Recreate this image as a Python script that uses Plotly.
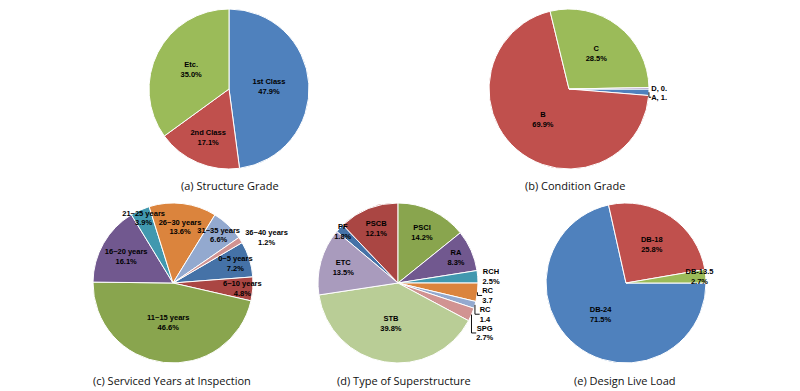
import plotly.graph_objects as go

W, H = 800, 391

# ---- data ----
a_labels = ["1st Class", "2nd Class", "Etc."]
a_values = [47.9, 17.1, 35.0]

b_labels = ["A", "B", "C", "D"]
b_values = [1.3, 69.9, 28.5, 0.3]
b_text = ["A, 1.", "B<br>69.9%", "C<br>28.5%", "D, 0."]

c_labels = ["0~5 years", "6~10 years", "11~15 years", "16~20 years",
            "21~25 years", "26~30 years", "31~35 years", "36~40 years"]
c_values = [7.2, 4.8, 46.6, 16.1, 3.9, 13.6, 6.6, 1.2]

d_labels = ["PF", "PSCB", "PSCI", "RA", "RCH", "RC (a)", "RC (b)", "SPG", "STB", "ETC"]
d_values = [1.8, 12.1, 14.2, 8.3, 2.5, 3.7, 1.4, 2.7, 39.8, 13.5]
d_text = ["PF<br>1.8%", "PSCB<br>12.1%", "PSCI<br>14.2%", "RA<br>8.3%", "RCH<br>2.5%",
          "RC<br>3.7", "RC<br>1.4", "SPG<br>2.7%", "STB<br>39.8%", "ETC<br>13.5%"]

e_labels = ["DB-24", "DB-18", "DB-13.5"]
e_values = [71.5, 25.8, 2.7]

captions = ["(a) Structure Grade", "(b) Condition Grade", "(c) Serviced Years at Inspection",
            "(d) Type of Superstructure", "(e) Design Live Load"]

# ---- styling ----
col3 = ["#4F81BD", "#C0504D", "#9BBB59", "#8064A2"]
col10 = ["#4572A7", "#AA4643", "#89A54E", "#71588F", "#4198AF",
         "#DB843D", "#93A9CF", "#D19392", "#B9CD96", "#A99BBD"]
lab_font = dict(family="Liberation Sans, Arial, sans-serif", size=7.5, color="black", weight="bold")


def dom(cx, cy, r):
    return dict(x=[(cx - r) / W, (cx + r) / W], y=[1 - (cy + r) / H, 1 - (cy - r) / H])


def fmt(labels, values):
    return [f"{l}<br>{v:.1f}%" for l, v in zip(labels, values)]


fig = go.Figure()


def add_pie(labels, values, text, colors, rotation, domain, textpos):
    # coloured slices
    fig.add_trace(go.Pie(labels=labels, values=values, sort=False, direction="clockwise",
                         rotation=rotation, domain=domain, textinfo="none",
                         marker=dict(colors=colors, line=dict(color="white", width=1)),
                         showlegend=False, hoverinfo="label+percent"))
    # same slices, transparent, carrying the labels on top
    fig.add_trace(go.Pie(labels=labels, values=values, sort=False, direction="clockwise",
                         rotation=rotation, domain=domain, text=text, textinfo="text",
                         textposition=textpos, insidetextorientation="horizontal",
                         marker=dict(colors=["rgba(0,0,0,0)"] * len(values),
                                     line=dict(color="rgba(0,0,0,0)", width=0)),
                         textfont=lab_font, showlegend=False, hoverinfo="skip"))


add_pie(a_labels, a_values, fmt(a_labels, a_values), col3[:3], 0, dom(229, 89, 80), "inside")
add_pie(b_labels, b_values, b_text, col3, 90, dom(569, 89, 80),
        ["outside", "inside", "inside", "outside"])
add_pie(c_labels, c_values, fmt(c_labels, c_values), col10[:8], 59.7, dom(173, 283, 80),
        ["inside"] * 7 + ["outside"])
add_pie(d_labels, d_values, d_text, col10, 310, dom(398, 283, 80),
        ["inside", "inside", "inside", "inside", "outside", "outside", "outside", "outside",
         "inside", "inside"])
add_pie(e_labels, e_values, fmt(e_labels, e_values), col3[:3], 90, dom(626, 283, 80), "inside")

cap_pos = [(230, 185), (575, 185), (172, 380), (404, 380), (625, 380)]
for txt, (x, y) in zip(captions, cap_pos):
    fig.add_annotation(text=txt, x=x / W, y=1 - y / H, xref="paper", yref="paper",
                       showarrow=False, xanchor="center", yanchor="middle",
                       font=dict(family="Open Sans, Noto Sans, sans-serif", size=11, color="#111"))

fig.update_layout(width=W, height=H, margin=dict(l=0, r=0, t=0, b=0),
                  paper_bgcolor="white", plot_bgcolor="white",
                  uniformtext=dict(minsize=7.5, mode="show"))

fig.write_html("out.html", config={"displayModeBar": False},
               post_script="document.body.style.margin='0';document.body.style.overflow='hidden';")
